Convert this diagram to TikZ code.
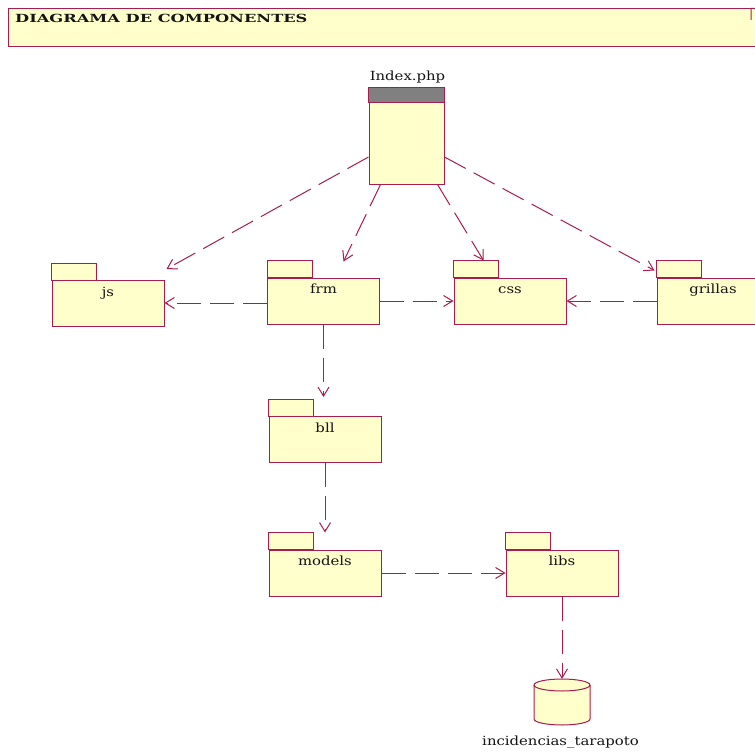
\documentclass[tikz,border=0pt]{standalone}
\usepackage{fontspec}
\setmainfont{DejaVu Serif}[FakeStretch=1.18]
\newfontfamily\titlefont{DejaVu Serif}[FakeStretch=1.45]
\usetikzlibrary{arrows.meta,calc}

\definecolor{umlred}{RGB}{168,28,78}
\definecolor{umlfill}{RGB}{255,255,204}
\definecolor{headgray}{RGB}{128,128,128}
\definecolor{textdark}{RGB}{20,20,20}

\tikzset{
  umlline/.style={draw=umlred, line width=1pt},
  framebox/.style={umlline, fill=umlfill, inner sep=0pt},
  pkgbody/.style={framebox, minimum width=112pt, minimum height=46pt},
  pkgtab/.style={umlline, fill=umlfill},
  dep/.style={umlline, dash pattern=on 24pt off 9pt,
    -{Straight Barb[length=9pt, width=11pt, line width=1pt]}},
  lbl/.style={font=\fontsize{12.6}{14}\selectfont, text=textdark, inner sep=0pt, anchor=base},
}

% package symbol: body, tab and name
\newcommand\umlpackage[3]{%
  \node[pkgbody] (#1) at (#2) {};
  \draw[pkgtab] (#1.north west) rectangle ++(45,-17);
  \node[lbl] (#1-label) at ($(#1.north)+(0,16)$) {#3};
}

\begin{document}
\begin{tikzpicture}[x=1pt, y=-1pt]
\useasboundingbox (0,0) rectangle (755,752);
\clip (0,0) rectangle (755,752);

% title frame
\node[framebox, anchor=north west, minimum width=760pt, minimum height=38pt] (title) at (8,8) {};
\node[anchor=base west, inner sep=0pt, text=textdark,
      font=\titlefont\bfseries\fontsize{11.2}{13}\selectfont] (title-text) at (15,22.5)
      {DIAGRAMA DE COMPONENTES};
\draw[umlline, fill=umlfill] (751,20) -- (751,8.5) -- (755,8.5) -- (758,12) -- (758,20);

% Index.php component
\node[framebox, minimum width=75pt, minimum height=96pt] (index) at (406.5,136) {};
\draw[umlline, fill=headgray] (index.north west) rectangle ($(index.north east)+(0,15)$);
\node[lbl] (index-label) at (407.5,80.7) {Index.php};

% packages
\umlpackage{js}{108,303.5}{js}
\umlpackage{frm}{323.5,301}{frm}
\umlpackage{css}{510,301}{css}
\umlpackage{grillas}{713,301}{grillas}
\umlpackage{bll}{325,439.5}{bll}
\umlpackage{models}{325,573}{models}
\umlpackage{libs}{562,573}{libs}

% database
\node[minimum width=56pt, minimum height=46pt, inner sep=0pt] (db) at (562,702) {};
\begin{scope}[shift={(db.center)}, x=1pt, y=1pt]
  \filldraw[umlline, fill=umlfill] (-28,17) -- (-28,-17)
    arc[start angle=180, end angle=360, x radius=28pt, y radius=6pt] -- (28,17)
    arc[start angle=0, end angle=180, x radius=28pt, y radius=6pt] -- cycle;
  \draw[umlline] (-28,17) arc[start angle=180, end angle=360, x radius=28pt, y radius=6pt];
\end{scope}
\node[lbl] (db-label) at (560.5,745) {incidencias\_tarapoto};

% dependencies
\draw[dep] ($(index.west)+(0,21)$) -- ($(js.north east)+(2,-11)$);
\draw[dep] ($(index.south west)+(12,0)$) -- ($(frm.north)+(20,-16)$);
\draw[dep] ($(index.south east)+(-7,0)$) -- ($(css.north west)+(30,-17)$);
\draw[dep] ($(index.east)+(0,21)$) -- ($(grillas.north west)+(-2,-7)$);
\draw[dep] ($(frm.west)+(0,2)$) coordinate (frm-out) -- (frm-out -| js.east);
\draw[dep] (frm.east) -- (css.west);
\draw[dep] (grillas.west) -- (css.east);
\draw[dep] (frm.south) -- ($(bll.north)+(-1.5,-19)$);
\draw[dep] (bll.south) -- ($(models.north)+(0,-17)$);
\draw[dep] (models.east) -- (libs.west);
\draw[dep] (libs.south) -- (db.north);
\end{tikzpicture}
\end{document}
